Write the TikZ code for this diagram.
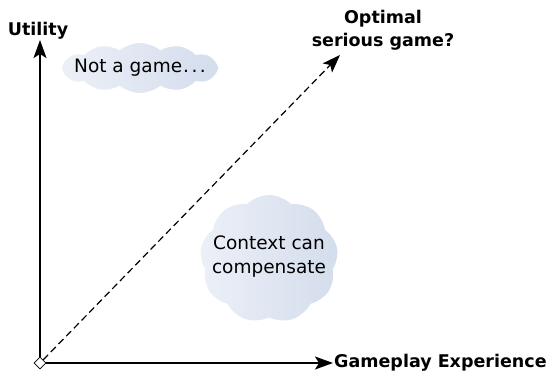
\documentclass[tikz,border=0pt]{standalone}
\usepackage{fontspec}
\setmainfont{DejaVu Sans}
\usetikzlibrary{shapes.symbols,shapes.geometric,arrows.meta}

\definecolor{cloudlight}{RGB}{236,240,247}
\definecolor{clouddark}{RGB}{212,221,237}

\begin{document}
\begin{tikzpicture}[x=1pt, y=-1pt,
    axis/.style={line width=1.4pt, -{Stealth[length=18pt, width=13pt, inset=4pt]}},
    axislabel/.style={font=\bfseries\fontsize{17.5}{23}\selectfont, inner sep=1pt},
    blob/.style={cloud, cloud ignores aspect, draw=none, inner sep=0pt,
                 left color=cloudlight, right color=clouddark},
    blobtext/.style={font=\fontsize{18.5}{24}\selectfont, align=center, inner sep=0pt}]
  \useasboundingbox (0,0) rectangle (555,376);

  %clouds
  \node[blob, cloud puffs=12, cloud puff arc=80, minimum width=156pt, minimum height=50pt, name=notgame] at (140,68) {};
  \node[blob, cloud puffs=9 , cloud puff arc=90, minimum width=138pt, minimum height=128pt, name=context] at (269,259) {};
  \node[blobtext, name=notgametext] at (notgame.center) {Not a game\kern1pt.\kern2.5pt.\kern2.5pt.};
  \node[blobtext, name=contexttext] at ([yshift=2pt]context.center) {Context can\\compensate};

  %axes
  \node[diamond, draw, fill=white, line width=0.8pt, minimum size=12pt, inner sep=0pt, name=orig] at (40,363) {};
  \node[axislabel, name=util] at (38,31) {Utility};
  \node[axislabel, anchor=west, name=gx] at (333,363) {Gameplay Experience};
  \node[axislabel, align=center, name=opt] at (383,30) {Optimal\\serious game?};
  \coordinate (opttip) at (340,55);

  \draw[axis] (orig.north) -- (40,40);
  \draw[axis] (orig.east) -- (gx.west);
  \draw[axis, line width=1.2pt, dash pattern=on 7pt off 4pt] (orig.north east) -- (opttip);
\end{tikzpicture}
\end{document}
